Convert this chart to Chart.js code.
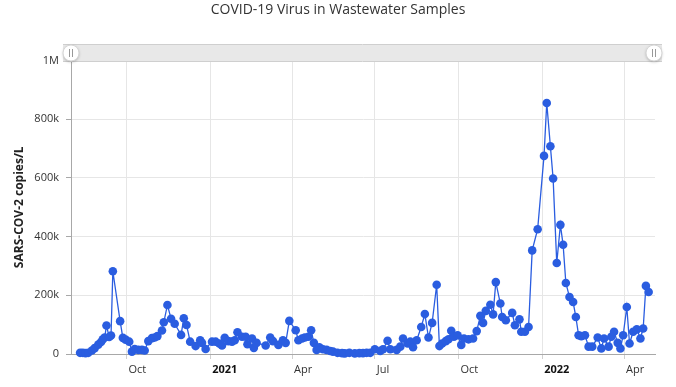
<!DOCTYPE html>
<html>
<head>
<meta charset="utf-8">
<script src="https://cdn.jsdelivr.net/npm/chart.js@4.4.1/dist/chart.umd.min.js"></script>
<style>
body { margin: 0; background: #fff; }
canvas { display: block; }
</style>
</head>
<body>
<canvas id="chart" width="676" height="387"></canvas>
<script>
// sample dates and concentrations
const sampleDates = [
  '2020-08-11','2020-08-14','2020-08-17','2020-08-20','2020-08-24','2020-08-27','2020-08-31',
  '2020-09-03','2020-09-05','2020-09-07','2020-09-09','2020-09-12','2020-09-14','2020-09-16',
  '2020-09-24','2020-09-27','2020-09-30','2020-10-04','2020-10-07','2020-10-10','2020-10-14',
  '2020-10-18','2020-10-21','2020-10-25','2020-10-29','2020-11-01','2020-11-04','2020-11-09',
  '2020-11-11','2020-11-15','2020-11-19','2020-11-23','2020-11-30','2020-12-03','2020-12-06',
  '2020-12-10','2020-12-16','2020-12-21','2020-12-23','2020-12-27','2021-01-03','2021-01-07',
  '2021-01-11','2021-01-14','2021-01-17','2021-01-21','2021-01-25','2021-01-28','2021-01-31',
  '2021-02-05','2021-02-09','2021-02-11','2021-02-16','2021-02-18','2021-02-21','2021-03-03',
  '2021-03-08','2021-03-11','2021-03-17','2021-03-22','2021-03-25','2021-03-29','2021-04-05',
  '2021-04-08','2021-04-12','2021-04-15','2021-04-19','2021-04-22','2021-04-25','2021-04-28',
  '2021-05-01','2021-05-05','2021-05-09','2021-05-13','2021-05-16','2021-05-21','2021-05-26',
  '2021-05-29','2021-06-03','2021-06-09','2021-06-14','2021-06-18','2021-06-22','2021-06-26',
  '2021-07-01','2021-07-07','2021-07-10','2021-07-15','2021-07-18','2021-07-25','2021-07-29',
  '2021-08-01','2021-08-06','2021-08-09','2021-08-12','2021-08-16','2021-08-21','2021-08-25',
  '2021-08-29','2021-09-02','2021-09-07','2021-09-10','2021-09-13','2021-09-17','2021-09-20',
  '2021-09-23','2021-09-26','2021-09-30','2021-10-04','2021-10-07','2021-10-12','2021-10-17',
  '2021-10-21','2021-10-25','2021-10-28','2021-10-31','2021-11-05','2021-11-08','2021-11-11',
  '2021-11-16','2021-11-18','2021-11-22','2021-11-29','2021-12-02','2021-12-07','2021-12-09',
  '2021-12-13','2021-12-17','2021-12-21','2021-12-27','2022-01-03','2022-01-06','2022-01-10',
  '2022-01-13','2022-01-17','2022-01-21','2022-01-24','2022-01-27','2022-01-31','2022-02-04',
  '2022-02-07','2022-02-10','2022-02-13','2022-02-17','2022-02-21','2022-02-25','2022-03-03',
  '2022-03-07','2022-03-10','2022-03-15','2022-03-18','2022-03-21','2022-03-25','2022-03-28',
  '2022-03-31','2022-04-04','2022-04-07','2022-04-11','2022-04-15','2022-04-19','2022-04-22',
  '2022-04-25','2022-04-28'
];

const copiesPerL = [
  4000, 4000, 3000, 4000, 12000, 20000, 32000,
  41000, 50000, 56000, 97000, 58000, 63000, 282000,
  112000, 55000, 49000, 42000, 8000, 17000, 14000,
  14000, 12000, 44000, 54000, 56000, 61000, 80000,
  108000, 167000, 120000, 103000, 65000, 122000, 99000,
  42000, 27000, 47000, 38000, 17000, 42000, 42000,
  36000, 29000, 55000, 44000, 42000, 47000, 74000,
  59000, 59000, 33000, 53000, 21000, 38000, 29000,
  56000, 44000, 31000, 47000, 38000, 113000, 81000,
  47000, 53000, 56000, 59000, 81000, 38000, 14000,
  23000, 16000, 14000, 10000, 8000, 4000, 3000,
  2000, 4000, 2000, 3000, 3000, 4000, 4000,
  16000, 10000, 16000, 45000, 16000, 14000, 25000,
  53000, 36000, 42000, 23000, 47000, 92000, 136000,
  56000, 106000, 236000, 27000, 36000, 44000, 50000,
  79000, 59000, 64000, 31000, 53000, 50000, 53000,
  78000, 130000, 106000, 147000, 168000, 135000, 245000,
  172000, 126000, 115000, 140000, 98000, 118000, 76000,
  76000, 92000, 353000, 425000, 675000, 855000, 708000,
  598000, 310000, 440000, 372000, 242000, 194000, 177000,
  126000, 64000, 61000, 64000, 25000, 25000, 56000,
  19000, 53000, 25000, 59000, 76000, 38000, 19000,
  64000, 160000, 36000, 76000, 84000, 53000, 87000,
  232000, 211000
];

const xTickDates = ['2020-10-01','2021-01-01','2021-04-01','2021-07-01','2021-10-01','2022-01-01','2022-04-01'];
const xTickLabels = ['Oct','2021','Apr','Jul','Oct','2022','Apr'];
const yTickValues = [0, 200000, 400000, 600000, 800000, 1000000];
const yTickLabels = ['0','200k','400k','600k','800k','1M'];

const FONT = '"Open Sans", "DejaVu Sans", sans-serif';
const BLUE = '#2a5de0';

const points = sampleDates.map((d, i) => ({ x: Date.parse(d), y: copiesPerL[i] }));

// range slider drawn over the top of the plot
const navigatorBar = {
  id: 'navigatorBar',
  afterDraw(chart) {
    const ctx = chart.ctx;
    const a = chart.chartArea;
    const cy = 53;
    const left = a.left, right = a.right - 1;

    ctx.save();
    ctx.fillStyle = '#e8e8e8';
    ctx.fillRect(left - 8, cy - 8, right - left + 16, 16);
    ctx.strokeStyle = '#cfcfcf';
    ctx.lineWidth = 1;
    ctx.beginPath();
    ctx.moveTo(left - 8, cy - 8.5); ctx.lineTo(right + 8, cy - 8.5);
    ctx.moveTo(left - 8, cy + 8.5); ctx.lineTo(right + 8, cy + 8.5);
    ctx.stroke();

    [left, right].forEach(hx => {
      ctx.save();
      ctx.shadowColor = 'rgba(0,0,0,0.25)';
      ctx.shadowBlur = 3;
      ctx.shadowOffsetY = 1;
      ctx.beginPath();
      ctx.arc(hx, cy, 8, 0, Math.PI * 2);
      ctx.fillStyle = '#fff';
      ctx.fill();
      ctx.restore();
      ctx.strokeStyle = '#d6d6d6';
      ctx.stroke();
      ctx.strokeStyle = '#999';
      ctx.beginPath();
      ctx.moveTo(hx - 1.5, cy - 4); ctx.lineTo(hx - 1.5, cy + 4);
      ctx.moveTo(hx + 1.5, cy - 4); ctx.lineTo(hx + 1.5, cy + 4);
      ctx.stroke();
    });
    ctx.restore();
  }
};

new Chart(document.getElementById('chart'), {
  type: 'line',
  data: {
    datasets: [{
      label: 'SARS-COV-2',
      data: points,
      borderColor: BLUE,
      backgroundColor: BLUE,
      borderWidth: 1.3,
      pointRadius: 4.3,
      pointBorderWidth: 0,
      pointBackgroundColor: BLUE,
      tension: 0,
      clip: false
    }]
  },
  options: {
    responsive: false,
    animation: false,
    devicePixelRatio: 1,
    layout: { padding: 0 },
    plugins: {
      legend: { display: false },
      tooltip: { enabled: false },
      title: {
        display: true,
        text: 'COVID-19 Virus in Wastewater Samples',
        color: '#333',
        font: { family: FONT, size: 14, weight: 'normal' },
        padding: { top: 2, bottom: 41.7 }
      }
    },
    scales: {
      x: {
        type: 'linear',
        min: Date.parse('2020-08-01'),
        max: Date.parse('2022-05-05'),
        afterBuildTicks: s => { s.ticks = xTickDates.map(d => ({ value: Date.parse(d) })); },
        afterFit: s => { s.height = 33; },
        ticks: {
          callback: (v, i) => xTickLabels[i],
          align: 'start',
          labelOffset: 2,
          padding: 4,
          maxRotation: 0,
          autoSkip: false,
          color: ctx => /^\d{4}$/.test(xTickLabels[ctx.index]) ? '#111' : '#333',
          font: ctx => ({
            family: FONT,
            size: 11,
            weight: /^\d{4}$/.test(xTickLabels[ctx.index]) ? 'bold' : 'normal'
          })
        },
        grid: { color: '#e6e6e6', tickColor: '#d0d0d0', tickLength: 5 },
        border: { color: '#a8a8a8' }
      },
      y: {
        min: 0,
        max: 1000000,
        afterBuildTicks: s => { s.ticks = yTickValues.map(v => ({ value: v })); },
        afterFit: s => { s.width = 71; },
        ticks: {
          callback: (v, i) => yTickLabels[i],
          padding: 7,
          color: '#333',
          font: { family: FONT, size: 11 }
        },
        grid: { color: '#e6e6e6', tickColor: '#a8a8a8', tickLength: 5 },
        border: { color: '#a8a8a8' },
        title: {
          display: true,
          text: 'SARS-COV-2 copies/L',
          color: '#222',
          font: { family: FONT, size: 12, weight: 'bold' },
          padding: { top: 12.8, bottom: 0 }
        }
      },
      // empty right-hand strip so the plot ends where the reference does
      spacer: {
        type: 'linear',
        position: 'right',
        display: true,
        afterFit: s => { s.width = 21; },
        ticks: { display: false },
        grid: { display: false, drawOnChartArea: false },
        border: { display: false }
      }
    }
  },
  plugins: [navigatorBar]
});
</script>
</body>
</html>
